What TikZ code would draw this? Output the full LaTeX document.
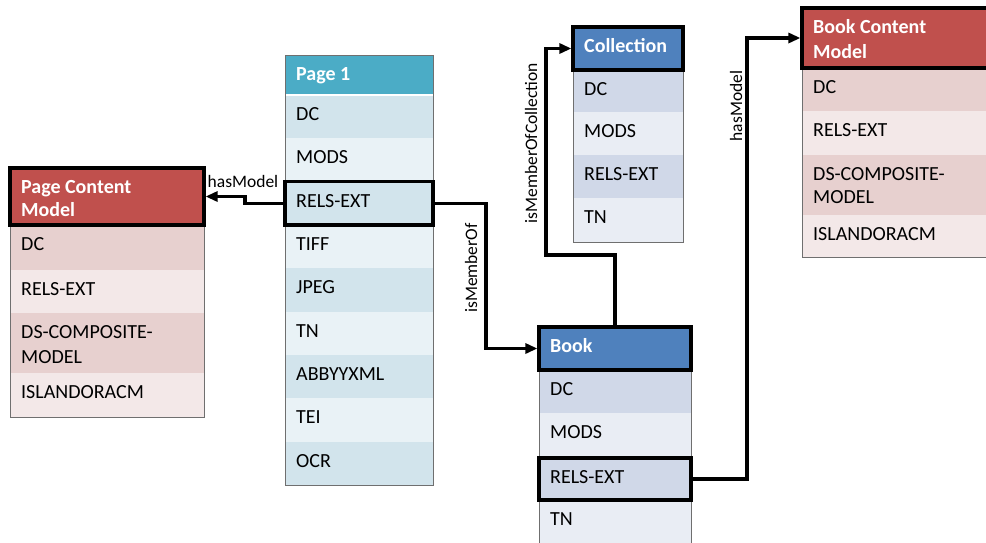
\documentclass[tikz,border=0pt]{standalone}
\usepackage{fontspec}
\setmainfont{Carlito}
\usetikzlibrary{arrows.meta,calc}
\definecolor{pghead}{HTML}{4BACC6}
\definecolor{pgdark}{HTML}{D2E4EC}
\definecolor{pglight}{HTML}{E9F2F6}
\definecolor{rdhead}{HTML}{C0504D}
\definecolor{rddark}{HTML}{E7D0CF}
\definecolor{rdlight}{HTML}{F3E8E8}
\definecolor{blhead}{HTML}{4F81BD}
\definecolor{bldark}{HTML}{D0D8E8}
\definecolor{bllight}{HTML}{E9EDF4}
\definecolor{edgegray}{HTML}{6F6F6F}
\tikzset{
  cellbox/.style={draw=none, inner sep=0pt, outer sep=0pt, anchor=north west},
  celltxt/.style={inner sep=0pt, anchor=base west, font=\fontsize{20}{24}\selectfont},
  headtxt/.style={inner sep=0pt, anchor=base west, text=white, font=\fontsize{20}{24}\selectfont\bfseries},
  outline/.style={draw=edgegray, line width=1pt},
  thickbox/.style={draw=black, line width=3.3pt},
  conn/.style={draw=black, line width=3.2pt, -{Triangle[length=12pt,width=10pt]}},
  lbl/.style={font=\fontsize{17.5}{20}\selectfont, inner sep=0pt},
}
% name, x, y, w, h, fill, text style, text
\newcommand\mkcell[8]{%
  \node[cellbox, fill=#6, minimum width=#4pt, minimum height=#5pt] (#1) at (#2,#3) {};
  \node[#7] (#1-t) at ($(#1.north west)+(11,25.5)$) {#8};}
\begin{document}
\begin{tikzpicture}[x=1pt,y=-1pt]
\useasboundingbox (0,0) rectangle (986,542);
\clip (0,0) rectangle (986,542);

% ---------- Page Content Model ----------
\mkcell{pcmh}{10}{168}{194}{57}{rdhead}{headtxt}{Page Content}
\node[headtxt] (pcmh-t2) at ($(pcmh.north west)+(11,48)$) {Model};
\mkcell{pcm1}{10}{225}{194}{45}{rddark}{celltxt}{DC}
\mkcell{pcm2}{10}{270}{194}{43}{rdlight}{celltxt}{RELS-EXT}
\mkcell{pcm3}{10}{313}{194}{60}{rddark}{celltxt}{DS-COMPOSITE-}
\node[celltxt] (pcm3-t2) at ($(pcm3.north west)+(11,50.5)$) {MODEL};
\mkcell{pcm4}{10}{373}{194}{44}{rdlight}{celltxt}{ISLANDORACM}
\draw[outline] (pcmh.north west) rectangle (pcm4.south east);
\draw[thickbox] (pcmh.north west) rectangle (pcmh.south east);

% ---------- Page 1 ----------
\mkcell{p1h}{285}{55}{148}{40}{pghead}{headtxt}{Page 1}
\mkcell{p1a}{285}{95}{148}{43.33}{pgdark}{celltxt}{DC}
\mkcell{p1b}{285}{138.33}{148}{43.33}{pglight}{celltxt}{MODS}
\mkcell{p1rels}{285}{181.67}{148}{43.33}{pgdark}{celltxt}{RELS-EXT}
\mkcell{p1d}{285}{225}{148}{43.33}{pglight}{celltxt}{TIFF}
\mkcell{p1e}{285}{268.33}{148}{43.33}{pgdark}{celltxt}{JPEG}
\mkcell{p1f}{285}{311.67}{148}{43.33}{pglight}{celltxt}{TN}
\mkcell{p1g}{285}{355}{148}{43.33}{pgdark}{celltxt}{ABBYYXML}
\mkcell{p1i}{285}{398.33}{148}{43.33}{pglight}{celltxt}{TEI}
\mkcell{p1j}{285}{441.67}{148}{43.33}{pgdark}{celltxt}{OCR}
\draw[white, line width=1.5pt] (p1a.north west) -- (p1a.north east);
\draw[outline] (p1h.north west) rectangle (p1j.south east);
\draw[thickbox] (p1rels.north west) rectangle (p1rels.south east);

% ---------- Collection ----------
\mkcell{colh}{573}{27}{110}{43}{blhead}{headtxt}{Collection}
\mkcell{col1}{573}{70}{110}{42}{bldark}{celltxt}{DC}
\mkcell{col2}{573}{112}{110}{43}{bllight}{celltxt}{MODS}
\mkcell{col3}{573}{155}{110}{43}{bldark}{celltxt}{RELS-EXT}
\mkcell{col4}{573}{198}{110}{44}{bllight}{celltxt}{TN}
\draw[outline] (colh.north west) rectangle (col4.south east);
\draw[thickbox] (colh.north west) rectangle (colh.south east);

% ---------- Book ----------
\mkcell{bkh}{539}{327}{152}{43}{blhead}{headtxt}{Book}
\mkcell{bk1}{539}{370}{152}{43}{bldark}{celltxt}{DC}
\mkcell{bk2}{539}{413}{152}{45}{bllight}{celltxt}{MODS}
\mkcell{bkrels}{539}{458}{152}{42}{bldark}{celltxt}{RELS-EXT}
\mkcell{bk4}{539}{500}{152}{50}{bllight}{celltxt}{TN}
\draw[outline] (bkh.north west) rectangle (bk4.south east);
\draw[thickbox] (bkh.north west) rectangle (bkh.south east);
\draw[thickbox] (bkrels.north west) rectangle (bkrels.south east);

% ---------- Book Content Model ----------
\mkcell{bcmh}{802}{8}{196}{60}{rdhead}{headtxt}{Book Content}
\node[headtxt] (bcmh-t2) at ($(bcmh.north west)+(11,50)$) {Model};
\mkcell{bcm1}{802}{68}{196}{43}{rddark}{celltxt}{DC}
\mkcell{bcm2}{802}{111}{196}{44}{rdlight}{celltxt}{RELS-EXT}
\mkcell{bcm3}{802}{155}{196}{60}{rddark}{celltxt}{DS-COMPOSITE-}
\node[celltxt] (bcm3-t2) at ($(bcm3.north west)+(11,48.5)$) {MODEL};
\mkcell{bcm4}{802}{215}{196}{42}{rdlight}{celltxt}{ISLANDORACM}
\draw[outline] (bcmh.north west) rectangle (bcm4.south east);
\draw[thickbox] (bcmh.north west) rectangle (bcmh.south east);

% ---------- Connectors ----------
\draw[conn] (p1rels.west) -- ++(-40,0) |- ($(pcmh.east)+(1.6,0)$);
\node[lbl] (l1) at (243,181) {hasModel};

\draw[conn] (p1rels.east) -- ++(53,0) |- ($(bkh.west)+(-1.6,0)$);
\node[lbl, rotate=90] (l2) at (471,268) {isMemberOf};

\draw[conn] (bkh.north) -- ++(0,-72) -| ($(colh.west)+(-27,0)$) -- ($(colh.west)+(-1.6,0)$);
\node[lbl, rotate=90] (l3) at (531,143) {isMemberOfCollection};

\draw[conn] (bkrels.east) -- ++(56,0) |- ($(bcmh.west)+(-1.6,0)$);
\node[lbl, rotate=90] (l4) at (736,106) {hasModel};
\end{tikzpicture}
\end{document}
